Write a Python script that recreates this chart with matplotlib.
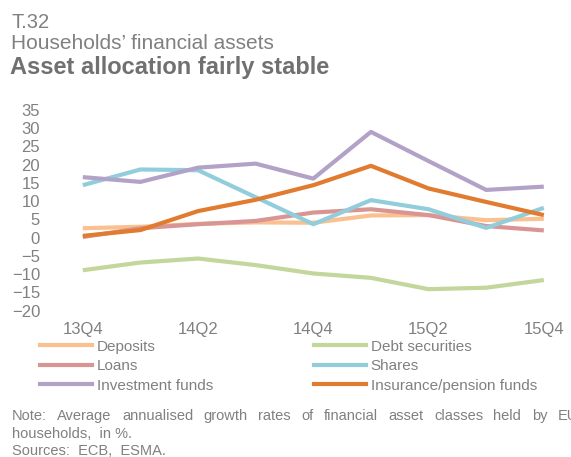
import matplotlib.pyplot as plt
from matplotlib.lines import Line2D

plt.rcParams['font.family'] = ['Liberation Sans', 'DejaVu Sans']

quarters = ['13Q4', '14Q1', '14Q2', '14Q3', '14Q4', '15Q1', '15Q2', '15Q3', '15Q4']
deposits = [2.6, 3.0, 3.8, 4.2, 4.1, 6.1, 6.2, 4.8, 5.2]
debt_securities = [-8.9, -6.8, -5.7, -7.5, -9.8, -11.0, -14.1, -13.7, -11.6]
loans = [0.2, 2.6, 3.7, 4.6, 6.9, 7.8, 6.2, 3.2, 2.0]
shares = [14.4, 18.7, 18.5, 11.1, 3.7, 10.3, 7.8, 2.7, 8.2]
investment_funds = [16.6, 15.3, 19.2, 20.3, 16.2, 29.0, 21.0, 13.1, 14.0]
insurance_pension = [0.5, 2.1, 7.3, 10.4, 14.4, 19.7, 13.5, 9.8, 6.2]

series = [
    ('Deposits', deposits, '#FAC090'),
    ('Debt securities', debt_securities, '#C3D69B'),
    ('Loans', loans, '#D99594'),
    ('Shares', shares, '#92CDDC'),
    ('Investment funds', investment_funds, '#B3A2C7'),
    ('Insurance/pension funds', insurance_pension, '#E07B30'),
]

grey = '#808080'

fig = plt.figure(figsize=(5.71, 4.57), dpi=100)
ax = fig.add_axes([54 / 571, (457 - 310.7) / 457, 9 * 57.625 / 571, 200.7 / 457])

x = list(range(len(quarters)))
handles = {}
for name, vals, col in series:
    ax.plot(x, vals, color=col, lw=3, solid_capstyle='butt')
    handles[name] = Line2D([], [], color=col, lw=3)

ax.set_xlim(-0.5, 8.5)
ax.set_ylim(-20, 35)
ax.set_yticks(range(-20, 40, 5))
ax.set_xticks(x[::2])
ax.set_xticklabels(quarters[::2])
for s in ax.spines.values():
    s.set_visible(False)
ax.tick_params(axis='y', length=0, pad=10, labelsize=12, labelcolor=grey)
ax.tick_params(axis='x', length=0, pad=8, labelsize=12, labelcolor=grey)

# titles
fig.text(11 / 571, 1 - 28 / 457, 'T.32', fontsize=14.5, color=grey, va='baseline')
fig.text(11 / 571, 1 - 49 / 457, 'Households\u2019 financial assets', fontsize=15,
         color=grey, va='baseline')
fig.text(10 / 571, 1 - 74 / 457, 'Asset allocation fairly stable', fontsize=17,
         fontweight='bold', color='#707070', va='baseline')

# legend, filled column by column
order = ['Deposits', 'Loans', 'Investment funds',
         'Debt securities', 'Shares', 'Insurance/pension funds']
leg = fig.legend([handles[n] for n in order], order, ncol=2, frameon=False,
                 fontsize=11, labelcolor=grey, handlelength=3.4,
                 handletextpad=0.33, columnspacing=6.6, labelspacing=0.36,
                 loc='upper left', bbox_to_anchor=(26 / 571, 1 - 326 / 457))

# note, justified on its first line
note_words = 'Note: Average annualised growth rates of financial asset classes held by EU'.split()
fig.canvas.draw()
r = fig.canvas.get_renderer()
left_px, right_px = 12, 578
objs = [fig.text(0, 1 - 420 / 457, w, fontsize=10.5, color=grey, va='baseline')
        for w in note_words]
widths = [o.get_window_extent(r).width for o in objs]
gap = (right_px - left_px - sum(widths)) / (len(objs) - 1)
pos = left_px
for o, w in zip(objs, widths):
    o.set_x(pos / 571)
    pos += w + gap
fig.text(12 / 571, 1 - 438 / 457, 'households,  in %.', fontsize=10.5, color=grey, va='baseline')
fig.text(12 / 571, 1 - 455 / 457, 'Sources:  ECB,  ESMA.', fontsize=10.5, color=grey, va='baseline')

fig.savefig('out.png', dpi=100)
